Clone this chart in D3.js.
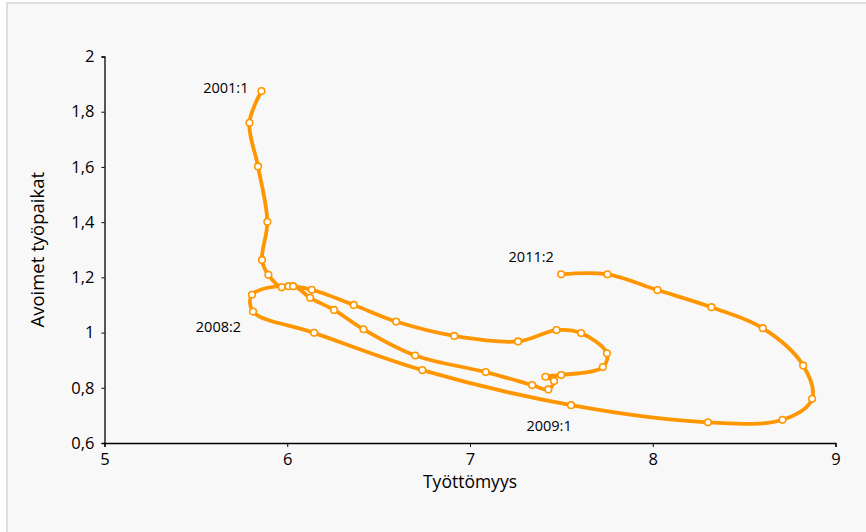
<!DOCTYPE html>
<html>
<head>
<meta charset="utf-8">
<script src="https://cdn.jsdelivr.net/npm/d3@7"></script>
<style>
  html, body { margin: 0; padding: 0; background: #ffffff; }
  svg { display: block; }
</style>
</head>
<body>
<div id="chart"></div>
<script>
// Quarterly data 2001:1 ... 2011:2
const periods = (() => { const p = []; for (let y = 2001; y <= 2011; y++) for (let q = 1; q <= 4; q++) { if (y === 2011 && q > 2) break; p.push(y + ":" + q); } return p; })();
const unemployment = [5.859, 5.793, 5.840, 5.891, 5.862, 5.897, 5.970, 6.007, 6.134, 6.364,
  6.596, 6.914, 7.263, 7.473, 7.608, 7.749, 7.727, 7.499, 7.413, 7.460,
  7.429, 7.340, 7.086, 6.700, 6.417, 6.256, 6.125, 6.032, 5.807, 5.813,
  6.147, 6.739, 7.553, 8.302, 8.710, 8.872, 8.823, 8.602, 8.321, 8.026,
  7.752, 7.499];
const vacancies = [1.875, 1.760, 1.602, 1.401, 1.263, 1.209, 1.164, 1.168, 1.155, 1.100,
  1.040, 0.988, 0.968, 1.009, 0.998, 0.925, 0.875, 0.846, 0.840, 0.825,
  0.794, 0.810, 0.857, 0.917, 1.012, 1.082, 1.126, 1.168, 1.137, 1.076,
  0.999, 0.864, 0.737, 0.675, 0.684, 0.760, 0.881, 1.016, 1.092, 1.154,
  1.211, 1.211];
const labelled = ["2001:1", "2008:2", "2009:1", "2011:2"];
const xTicks = [5, 6, 7, 8, 9];
const yTicks = [0.6, 0.8, 1, 1.2, 1.4, 1.6, 1.8, 2];

const W = 866, H = 532;
const svg = d3.select("#chart").append("svg").attr("width", W).attr("height", H);

// frame
svg.append("rect").attr("x", 7).attr("y", 3).attr("width", W + 10).attr("height", H + 10)
  .attr("fill", "#f8f8f8").attr("stroke", "#dedede").attr("stroke-width", 2);

const x = d3.scaleLinear().domain([5, 9]).range([104.5, 835.5]);
const y = d3.scaleLinear().domain([0.6, 2]).range([443, 56.5]);

const font = "'Open Sans', 'Noto Sans', sans-serif";
const fmt = d => String(d).replace(".", ",");

const gx = svg.append("g").attr("transform", `translate(0,${y(0.6)})`)
  .call(d3.axisBottom(x).tickValues(xTicks).tickFormat(fmt).tickSize(4).tickPadding(6));
const gy = svg.append("g").attr("transform", `translate(${x(5)},0)`)
  .call(d3.axisLeft(y).tickValues(yTicks).tickFormat(fmt).tickSize(3).tickPadding(7));
[gx, gy].forEach(g => {
  g.select(".domain").attr("stroke", "#000").attr("stroke-width", 1.3);
  g.selectAll(".tick line").attr("stroke", "#000").attr("stroke-width", 1);
  g.selectAll("text").attr("font-family", font).attr("font-size", 16.5).attr("fill", "#000");
});

svg.append("text").attr("x", (x(5) + x(9)) / 2).attr("y", 488).attr("text-anchor", "middle")
  .attr("font-family", font).attr("font-size", 17.5).attr("fill", "#000").text("Työttömyys");
svg.append("text").attr("transform", `translate(44,${(y(0.6) + y(2)) / 2}) rotate(-90)`)
  .attr("text-anchor", "middle").attr("font-family", font).attr("font-size", 18.5).attr("fill", "#000")
  .text("Avoimet työpaikat");

const data = periods.map((p, i) => ({ p, u: unemployment[i], v: vacancies[i] }));
const color = "#ff9600";

svg.append("path").datum(data)
  .attr("d", d3.line().x(d => x(d.u)).y(d => y(d.v)).curve(d3.curveCatmullRom.alpha(0.5)))
  .attr("fill", "none").attr("stroke", color).attr("stroke-width", 3.8)
  .attr("stroke-linejoin", "round").attr("stroke-linecap", "round");

svg.append("g").selectAll("circle").data(data).join("circle")
  .attr("cx", d => x(d.u)).attr("cy", d => y(d.v)).attr("r", 3.3)
  .attr("fill", "#ffffff").attr("stroke", color).attr("stroke-width", 1.6);

const labelPos = {
  "2001:1": { dx: -13, dy: 2, anchor: "end" },
  "2008:2": { dx: -12, dy: 20, anchor: "end" },
  "2009:1": { dx: -22, dy: 26, anchor: "middle" },
  "2011:2": { dx: -30, dy: -12, anchor: "middle" }
};
svg.append("g").selectAll("text").data(data.filter(d => labelled.includes(d.p))).join("text")
  .attr("x", d => x(d.u) + labelPos[d.p].dx).attr("y", d => y(d.v) + labelPos[d.p].dy)
  .attr("text-anchor", d => labelPos[d.p].anchor)
  .attr("font-family", font).attr("font-size", 14.5).attr("fill", "#000")
  .text(d => d.p);
</script>
</body>
</html>
